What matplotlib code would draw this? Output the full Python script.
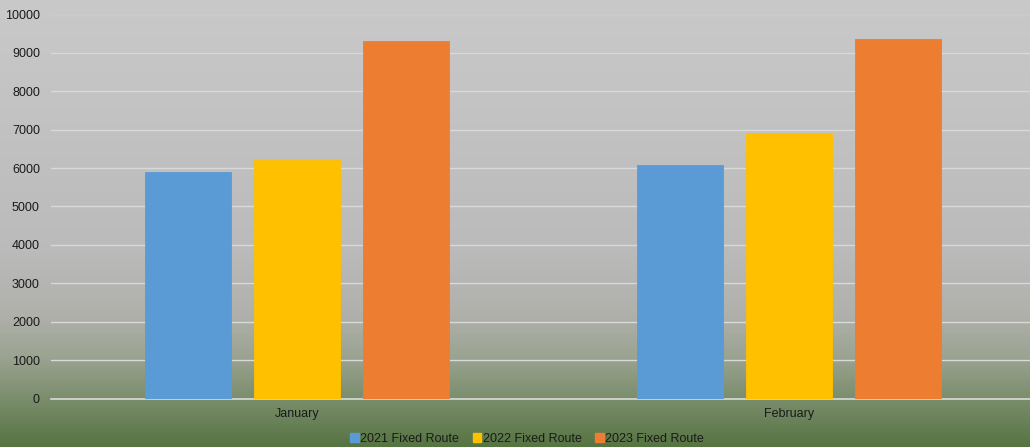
import numpy as np
import matplotlib
matplotlib.use("Agg")
from matplotlib import pyplot as plt
from matplotlib.colors import LinearSegmentedColormap
from matplotlib.patches import Patch

months = ["January", "February"]
series = ["2021 Fixed Route", "2022 Fixed Route", "2023 Fixed Route"]
riders_2021 = [5890, 6070]
riders_2022 = [6220, 6910]
riders_2023 = [9300, 9350]
colors = ["#5B9BD5", "#FFC000", "#ED7D31"]

plt.rcParams['font.family'] = ['Liberation Sans', 'DejaVu Sans']

fig = plt.figure(figsize=(10.30, 4.47), dpi=100)

# gray-to-green background over the whole figure
bg = fig.add_axes([0, 0, 1, 1], zorder=0)
bg_cmap = LinearSegmentedColormap.from_list("bg", [
    (0.00, (201/255, 201/255, 201/255)),
    (0.55, (187/255, 187/255, 187/255)),
    (0.70, (176/255, 177/255, 172/255)),
    (0.80, (155/255, 163/255, 145/255)),
    (0.90, (120/255, 140/255, 105/255)),
    (1.00, (86/255, 116/255, 66/255)),
])
bg.imshow(np.linspace(0, 1, 256).reshape(-1, 1), aspect="auto", cmap=bg_cmap,
          extent=[0, 1, 0, 1])
bg.axis("off")

W, H = 1030, 447
ax = fig.add_axes([51 / W, (H - 398.5) / H, (W - 51) / W, 384 / H], zorder=1)
ax.patch.set_alpha(0)

x = np.arange(len(months))
width = 0.175
step = 0.2215
for i, (vals, lab) in enumerate(zip([riders_2021, riders_2022, riders_2023], series)):
    ax.bar(x + (i - 1) * step, vals, width, color=colors[i], label=lab,
           edgecolor=colors[i], linewidth=0.6, zorder=3)

ax.set_ylim(0, 10000)
ax.set_xlim(-0.5, 1.49)
ax.set_yticks(np.arange(0, 10001, 1000))
ax.grid(axis="y", color="#d9d9d9", linewidth=1.0, zorder=0)
ax.set_axisbelow(True)
for s in ["top", "right", "left"]:
    ax.spines[s].set_visible(False)
ax.spines["bottom"].set_color("#d9d9d9")
ax.spines["bottom"].set_linewidth(1.2)
ax.set_xticks(x)
ax.set_xticklabels(months)
ax.tick_params(axis="both", length=0, labelsize=9, colors="#1a1a1a")
ax.tick_params(axis="y", pad=8)
ax.tick_params(axis="x", pad=7)

handles = [Patch(facecolor=c, edgecolor=c) for c in colors]
fig.legend(handles, series, loc="center", bbox_to_anchor=(527 / W, 8 / H), ncol=3,
           frameon=False, fontsize=9, handlelength=0.7, handleheight=0.7,
           handletextpad=0.1, columnspacing=1.1, labelcolor="#1a1a1a")

fig.savefig("out.png", dpi=100)
